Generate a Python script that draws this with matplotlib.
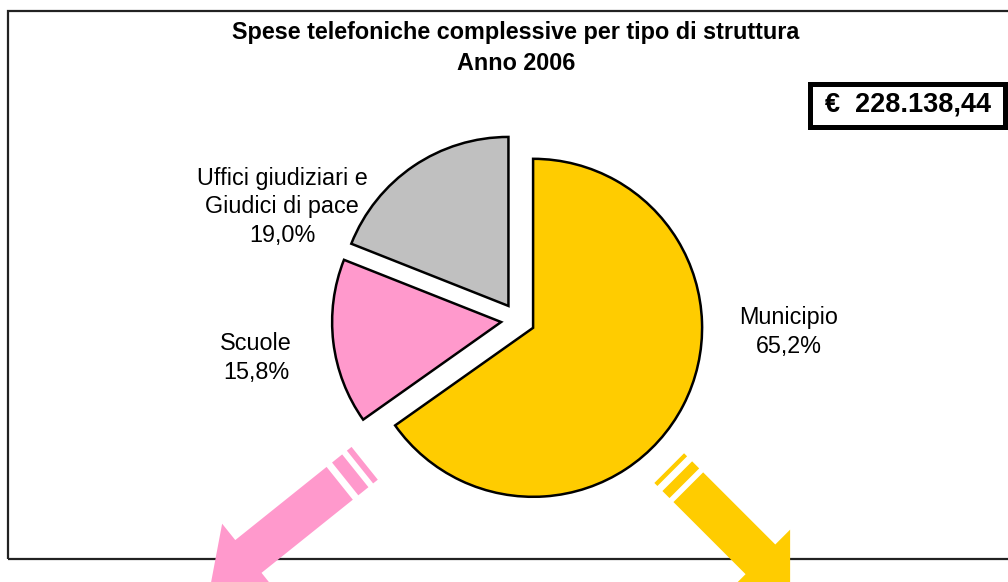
import numpy as np
import matplotlib
matplotlib.use("Agg")
import matplotlib.pyplot as plt
from matplotlib.patches import Rectangle, Polygon

plt.rcParams['font.family'] = ['Liberation Sans', 'DejaVu Sans']

# ---- data ----
categories = ["Municipio", "Scuole", "Uffici giudiziari e\nGiudici di pace"]
values = [65.2, 15.8, 19.0]
pct_labels = ["65,2%", "15,8%", "19,0%"]
colors = ["#FFCC00", "#FF99CC", "#C0C0C0"]
title_line1 = "Spese telefoniche complessive per tipo di struttura"
title_line2 = "Anno 2006"
total_label = "€  228.138,44"

W, H = 1008, 582
fig = plt.figure(figsize=(W / 100, H / 100), dpi=100)
ax = fig.add_axes([0, 0, 1, 1])


def Y(py):
    return H - py


# chart border (right side runs off the picture)
ax.add_patch(Rectangle((8, Y(559)), 1010, 548, fill=False, edgecolor="#222222",
                       linewidth=1.6, zorder=1))

# pie
ax.pie(values, colors=colors, startangle=90, counterclock=False,
       explode=[17, 17, 17], center=(518, Y(320)), radius=169,
       wedgeprops=dict(edgecolor="black", linewidth=1.8), frame=True)
ax.set_xlim(0, W)
ax.set_ylim(0, H)
ax.set_aspect("equal")
ax.axis("off")

# labels
fs = 16.8
ax.text(789, Y(332), f"{categories[0]}\n{pct_labels[0]}", ha="center", va="center",
        fontsize=fs, linespacing=1.28)
ax.text(256, Y(358), f"{categories[1]}\n{pct_labels[1]}", ha="center", va="center",
        fontsize=fs, linespacing=1.28)
ax.text(282, Y(207), f"{categories[2]}\n{pct_labels[2]}", ha="center", va="center",
        fontsize=fs, linespacing=1.28)

# title
ax.text(516, Y(32), title_line1, ha="center", va="center", fontsize=fs, fontweight="bold")
ax.text(516, Y(63), title_line2, ha="center", va="center", fontsize=fs, fontweight="bold")

# total box
ax.add_patch(Rectangle((809.5, Y(126.5)), 195, 43, facecolor="white", edgecolor="black",
                       linewidth=3.6, zorder=3))
ax.text(908, Y(105), total_label, ha="center", va="center", fontsize=19.5,
        fontweight="bold", zorder=4)


# striped block arrows
def striped_arrow(c, U, color, head_base, tip, near, far, hw=21, hh=42):
    c = np.array(c, float)
    U = np.array(U, float)
    U /= np.linalg.norm(U)
    N = np.array([-U[1], U[0]])
    if N[1] < 0:
        N = -N

    def P(u, n):
        p = c + u * U + n * N
        return (p[0], Y(p[1]))

    body = [P(0, -hw), P(head_base, -hw), P(head_base, -hh), P(tip, 0),
            P(head_base, hh), P(head_base, hw), P(0, hw)]
    ax.add_patch(Polygon(body, closed=True, facecolor=color, edgecolor="none", zorder=5))
    for a, b in (near, far):
        ax.add_patch(Polygon([P(a, -hw), P(b, -hw), P(b, hw), P(a, hw)], closed=True,
                             facecolor=color, edgecolor="none", zorder=5))


striped_arrow((339.7, 483.3), (-0.78, 0.625), colors[1], 117, 166,
              (-20, -7), (-32, -26))
striped_arrow((688.3, 487.2), (0.707, 0.707), colors[0], 102, 144,
              (-15.6, -5.6), (-27, -22.7))

fig.savefig("out.png", dpi=100)
